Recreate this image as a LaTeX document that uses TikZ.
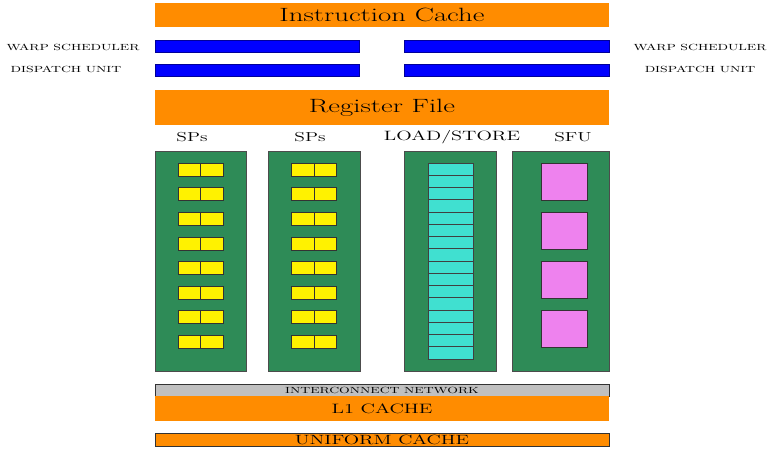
\documentclass[tikz,border=0pt]{standalone}
\usepackage{graphicx}
\usetikzlibrary{positioning}
\definecolor{cacheorange}{RGB}{255,140,0}
\definecolor{smgreen}{RGB}{46,139,87}
\definecolor{ldturq}{RGB}{64,224,208}
\definecolor{sfuviolet}{RGB}{238,130,238}
\definecolor{netgray}{RGB}{192,192,192}
\newcommand{\widetext}[2]{\scalebox{1.5}[1]{\fontsize{#1}{#1}\selectfont #2}}

\begin{document}
\begin{tikzpicture}[x=1pt,y=-1pt]
\tikzset{
  cachebar/.style={rectangle,fill=cacheorange,inner sep=0pt,minimum width=454},
  schedbar/.style={rectangle,fill=blue,draw=blue!60!black,line width=0.4pt,inner sep=0pt,minimum height=12},
  smblock/.style={rectangle,fill=smgreen,draw=black!70,line width=0.5pt,inner sep=0pt,minimum height=220},
  spcell/.style={rectangle,fill=yellow,draw=black!80,line width=0.6pt,inner sep=0pt,minimum width=22.5,minimum height=13},
  ldcell/.style={rectangle,fill=ldturq,draw=black!75,line width=0.6pt,inner sep=0pt,minimum width=45,minimum height=12.25},
  sfucell/.style={rectangle,fill=sfuviolet,draw=black!80,line width=0.6pt,inner sep=0pt,minimum width=46,minimum height=37},
  sidelabel/.style={inner sep=0pt}
}
\useasboundingbox (0,0) rectangle (769,448);
% top of the SM
\node[cachebar,minimum height=24] (icache) at (382,15) {\widetext{19.2}{Instruction Cache}};
\node[schedbar,minimum width=204] (warp_l) at (257,46) {};
\node[schedbar,minimum width=204] (disp_l) at (257,70) {};
\node[schedbar,minimum width=205] (warp_r) at (506.5,46) {};
\node[schedbar,minimum width=205] (disp_r) at (506.5,70) {};
\node[sidelabel] (lbl_warp_l) at (73,47) {\widetext{8.9}{WARP SCHEDULER}};
\node[sidelabel] (lbl_disp_l) at (66,69) {\widetext{8.9}{DISPATCH UNIT}};
\node[sidelabel] (lbl_warp_r) at (700,47) {\widetext{8.9}{WARP SCHEDULER}};
\node[sidelabel] (lbl_disp_r) at (700,69) {\widetext{8.9}{DISPATCH UNIT}};
\node[cachebar,minimum height=35] (regfile) at (382,107.5) {\widetext{19.2}{Register File}};
% execution units
\node[sidelabel] (lbl_sp1) at (192,137) {\widetext{13}{SPs}};
\node[sidelabel] (lbl_sp2) at (310,137) {\widetext{13}{SPs}};
\node[sidelabel] (lbl_ld) at (452,137) {\widetext{13.5}{LOAD/STORE}};
\node[sidelabel] (lbl_sfu) at (573,137) {\widetext{13}{SFU}};
\node[smblock,minimum width=91] (sp1) at (200.5,261) {};
\node[smblock,minimum width=92] (sp2) at (314,261) {};
\node[smblock,minimum width=92] (ld) at (450,261) {};
\node[smblock,minimum width=97] (sfu) at (560.5,261) {};
\foreach \i in {0,...,7} {
  \node[spcell] (sp1_\i_a) at (189.25,169.5+24.6*\i) {};
  \node[spcell] (sp1_\i_b) at (211.75,169.5+24.6*\i) {};
  \node[spcell] (sp2_\i_a) at (302.75,169.5+24.6*\i) {};
  \node[spcell] (sp2_\i_b) at (325.25,169.5+24.6*\i) {};
}
\foreach \i in {0,...,15}
  \node[ldcell] (ld_\i) at (450.5,169.125+12.25*\i) {};
\foreach \i in {0,...,3}
  \node[sfucell] (sfu_\i) at (564,181.5+49*\i) {};
% memory
\node[cachebar,fill=netgray,draw=black!80,line width=0.5pt,minimum height=12] (icnet) at (382,390) {\widetext{8.9}{INTERCONNECT NETWORK}};
\node[cachebar,minimum height=25] (l1) at (382,408.5) {\widetext{13.6}{L1 CACHE}};
\node[cachebar,draw=black!80,line width=0.5pt,minimum height=13] (ucache) at (382,439.5) {\widetext{13.4}{UNIFORM CACHE}};
\end{tikzpicture}
\end{document}
